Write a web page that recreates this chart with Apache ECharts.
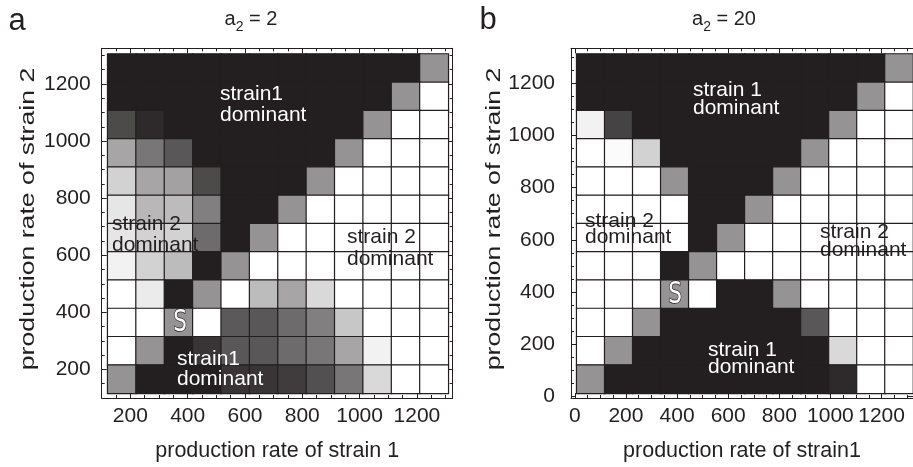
<!DOCTYPE html>
<html><head><meta charset="utf-8">
<script src="https://cdn.jsdelivr.net/npm/echarts@6/dist/echarts.min.js"></script>
<style>html,body{margin:0;padding:0;background:#fff;}#c{width:913px;height:467px;}</style>
</head><body><div id="c"></div>
<script>
// ---- data ----
// cell-centre production rates (categories), panel a
const catsAx = [170,270,370,470,570,670,770,860,960,1060,1160,1260];
const catsAy = [1260,1160,1060,960,860,770,670,570,470,370,270,170]; // top -> bottom
// panel b
const catsBx = [60,170,280,390,490,600,710,820,930,1040,1140,1250];
const catsBy = [1250,1140,1040,930,820,710,600,490,390,280,170,60]; // top -> bottom
// share of strain 2 (0 = strain 1 dominant / black, 1 = strain 2 dominant / white), rows top -> bottom
const gridA = [
  [0,0,0,0,0,0,0,0,0,0,0,0.52],
  [0,0,0,0,0,0,0,0,0,0,0.52,1],
  [0.19,0.05,0,0,0,0,0,0,0,0.52,1,1],
  [0.6,0.39,0.25,0,0,0,0,0,0.52,1,1,1],
  [0.8,0.6,0.58,0.19,0,0,0,0.52,1,1,1,1],
  [0.89,0.68,0.7,0.43,0,0,0.52,1,1,1,1,1],
  [0.89,0.8,0.8,0.34,0,0.52,1,1,1,1,1,1],
  [0.94,0.8,0.7,0,0.52,1,1,1,1,1,1,1],
  [1,0.91,0,0.52,1,0.7,0.6,0.83,1,1,1,1],
  [1,1,0.52,1,0.26,0.25,0.34,0.43,0.75,1,1,1],
  [1,0.52,0,0.1,0.25,0.25,0.34,0.39,0.6,0.94,1,1],
  [0.52,0,0,0,0.1,0.1,0.13,0.22,0.39,0.83,1,1]
];
const gridB = [
  [0,0,0,0,0,0,0,0,0,0,0,0.52],
  [0,0,0,0,0,0,0,0,0,0,0.52,1],
  [0.94,0.16,0,0,0,0,0,0,0,0.52,1,1],
  [1,0.98,0.8,0,0,0,0,0,0.52,1,1,1],
  [1,1,1,0.52,0,0,0,0.52,1,1,1,1],
  [1,1,1,1,0,0,0.52,1,1,1,1,1],
  [1,1,1,1,0,0.52,1,1,1,1,1,1],
  [1,1,1,0,0.52,1,1,1,1,1,1,1],
  [1,1,1,0.52,1,0,0,0.52,1,1,1,1],
  [1,1,0.52,0,0,0,0,0,0.25,1,1,1],
  [1,0.52,0,0,0,0,0,0,0,0.83,1,1],
  [0.52,0,0,0,0,0,0,0,0,0.05,1,1]
];
const xNameA = 'production rate of strain 1';
const xNameB = 'production rate of strain1';
const yName = 'production rate of strain 2';
const titleA = 'a';
const titleB = 'b';
const paramA = '2';
const paramB = '20';
const labelTop = ['strain1','dominant'];
const labelTopB = ['strain 1','dominant'];
const labelS2 = ['strain 2','dominant'];
const saddle = 'S';

// ---- build ----
const INK = '#231f20';
const FONT = 'Liberation Sans, Arial, sans-serif';
function toData(g){const d=[];g.forEach((row,r)=>row.forEach((v,c)=>d.push([c,r,v])));return d;}

function valAxis(grid, pos, min, max, labels, name, gap, margin){
  const isX = pos==='bottom'||pos==='top';
  return {
    type:'value', gridIndex:grid, position:pos, min:min, max:max, splitNumber:6,
    axisLine:{show:true,onZero:false,lineStyle:{color:INK,width:1}},
    axisTick:{show:true,inside:true,length:5,lineStyle:{color:INK,width:1}},
    minorTick:{show:true,splitNumber:4,length:3,lineStyle:{color:INK,width:1}},
    splitLine:{show:false}, minorSplitLine:{show:false},
    axisLabel:{show:labels,fontSize:21,fontFamily:FONT,color:INK,margin:margin||(isX?8:12),
      showMinLabel:false,showMaxLabel:false,
      formatter:function(v){return (v%200===0)?String(v):'';}},
    name:name||'', nameLocation:'middle', nameGap:gap||0,
    nameTextStyle:{fontSize:21.5,fontFamily:FONT,color:INK}
  };
}
function catAxis(grid, data, inv){
  return {type:'category', gridIndex:grid, data:data, show:false, inverse:!!inv};
}

const option = {
  animation:false,
  backgroundColor:'#fff',
  grid:[
    {left:107.7, top:54, width:340.6, height:339.3},
    {left:101.7, top:48.3, width:351, height:351},
    {left:576.7, top:54, width:340.6, height:339.3},
    {left:571, top:48.3, width:351, height:351}
  ],
  xAxis:[
    catAxis(0, catsAx),
    valAxis(1,'bottom',100,1325,true,xNameA,42),
    valAxis(1,'top',100,1325,false),
    catAxis(2, catsBx),
    valAxis(3,'bottom',-15,1323,true,xNameB,42),
    valAxis(3,'top',-15,1323,false)
  ],
  yAxis:[
    catAxis(0, catsAy, true),
    valAxis(1,'left',100,1325,true,'',0,11),
    valAxis(1,'right',100,1325,false),
    catAxis(2, catsBy, true),
    valAxis(3,'left',-5,1333,true,'',0,16),
    valAxis(3,'right',-5,1333,false)
  ],
  visualMap:{show:false, type:'continuous', min:0, max:1, seriesIndex:[0,1], inRange:{color:[INK,'#ffffff']}},
  series:[
    {type:'heatmap', xAxisIndex:0, yAxisIndex:0, data:toData(gridA), itemStyle:{borderColor:INK,borderWidth:1.2}},
    {type:'heatmap', xAxisIndex:3, yAxisIndex:3, data:toData(gridB), itemStyle:{borderColor:INK,borderWidth:1.2}}
  ],
  graphic:[]
};

function txt(s,x,y,color){
  return {type:'text', z:100, x:x, y:y, style:{text:s, fill:color, fontSize:21, fontFamily:FONT, align:'left', verticalAlign:'middle'}};
}
const G = option.graphic;
// panel letters and titles
G.push({type:'text',z:100,x:17,y:21,style:{text:titleA,fill:INK,fontSize:31,fontFamily:FONT,align:'center',verticalAlign:'middle'}});
G.push({type:'text',z:100,x:488,y:20,style:{text:titleB,fill:INK,fontSize:31,fontFamily:FONT,align:'center',verticalAlign:'middle'}});
function titleTxt(p,x){
  return {type:'text',z:100,x:x,y:22,style:{text:'{a|a}{s|2}{a| = '+p+'}',align:'center',verticalAlign:'middle',
    rich:{a:{fontSize:20,fontFamily:FONT,fill:INK,padding:[0,0,5,0],verticalAlign:'bottom'},s:{fontSize:14,fontFamily:FONT,fill:INK,verticalAlign:'bottom'}}}};
}
G.push(titleTxt(paramA,251));
G.push(titleTxt(paramB,724));
// y axis names (stretched along their length as in the original figure)
function yNameTxt(x){
  return {type:'text',z:100,x:x,y:219,rotation:Math.PI/2,scaleX:1.27,
    style:{text:yName,fill:INK,fontSize:21,fontFamily:FONT,align:'center',verticalAlign:'middle'}};
}
G.push(yNameTxt(28));
G.push(yNameTxt(494));
// region labels, panel a
G.push(txt(labelTop[0],220,94.5,'#fff'));G.push(txt(labelTop[1],220,115.5,'#fff'));
G.push(txt(labelS2[0],112,224,INK));G.push(txt(labelS2[1],112,245.5,INK));
G.push(txt(labelS2[0],347,237,INK));G.push(txt(labelS2[1],347,259,INK));
G.push(txt(labelTop[0],177,359.5,'#fff'));G.push(txt(labelTop[1],177,379.5,'#fff'));
// panel b
G.push(txt(labelTopB[0],693,90.5,'#fff'));G.push(txt(labelTopB[1],693,108.5,'#fff'));
G.push(txt(labelS2[0],585,221.5,INK));G.push(txt(labelS2[1],585,237.5,INK));
G.push(txt(labelS2[0],820,232,INK));G.push(txt(labelS2[1],820,250,INK));
G.push(txt(labelTopB[0],708,350,'#fff'));G.push(txt(labelTopB[1],708,367,'#fff'));
// saddle markers
function sTxt(x,y){return {type:'text',z:101,x:x,y:y,scaleX:0.72,style:{text:saddle,fill:'#fff',stroke:INK,lineWidth:1.5,fontSize:30,fontFamily:'DejaVu Sans, sans-serif',align:'center',verticalAlign:'middle'}};}
G.push(sTxt(180,323));
G.push(sTxt(675,295));

const chart = echarts.init(document.getElementById('c'),null,{renderer:'canvas'});
chart.setOption(option);
</script></body></html>
